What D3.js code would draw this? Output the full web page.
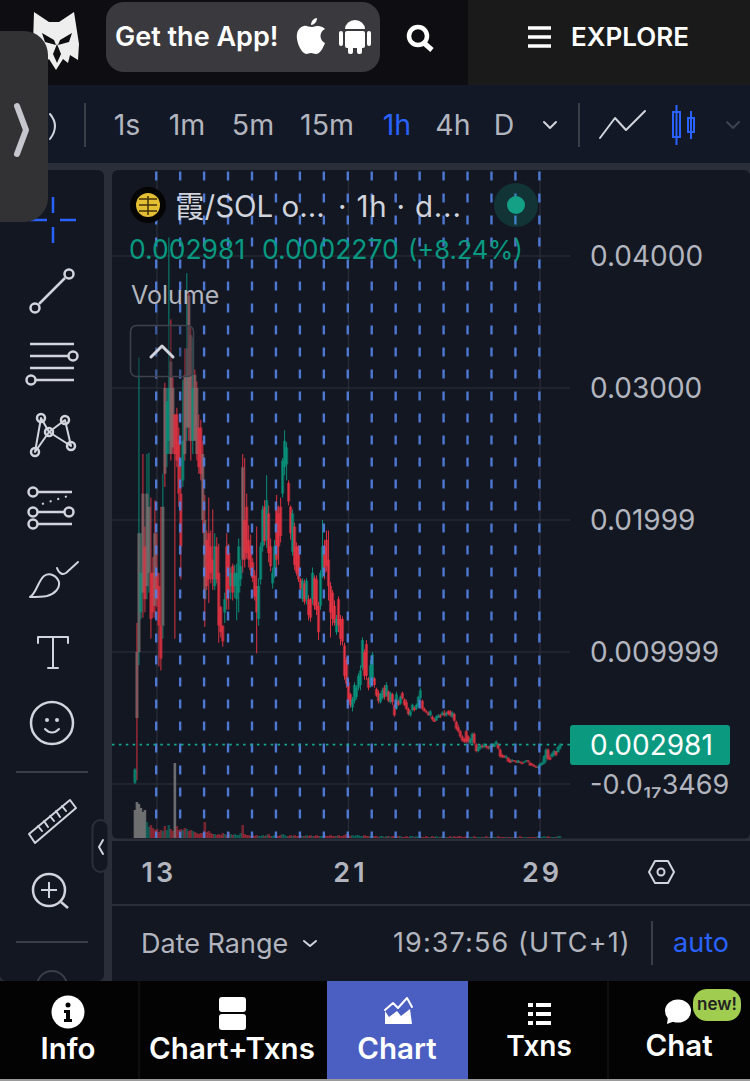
<!DOCTYPE html>
<html>
<head>
<meta charset="utf-8">
<script src="https://cdn.jsdelivr.net/npm/d3@7"></script>
<style>
  html, body { margin: 0; padding: 0; background: #131722; overflow: hidden; }
  svg { display: block; }
  text { font-family: Inter, "Noto Sans CJK SC", sans-serif; }
</style>
</head>
<body>
<div id="chart"></div>
<script>
// Prices are in units of 0.001 SOL, one candle every two hours, hour 0 = the 13th
var candleHours = d3.range(-22, 406, 2);

var highs = [
  1.2,12.2,32.3,19,25,19.5,25,25.1,21.7,17.2,
  21.5,19,16,21,23.5,30.4,30,41.4,35.2,30.8,
  28,28.5,27,24.6,30.6,33,38.7,37.2,34.6,33.8,
  31.4,30.5,28,27.6,26,21.9,19.2,21.7,19.2,20.8,
  19,18.7,18.2,13.5,12,14.5,19,18.2,16.4,16.7,
  16.6,16.7,18.6,17,25,24.7,22,19.6,18.9,17.1,
  16.2,19.5,15.6,18.3,21.1,21.5,23.4,21.1,18.6,16.4,
  18.5,21.9,21.1,21.7,24.7,26.8,25.9,23,21.1,20.8,
  19.8,18.3,18.1,15.6,15.6,15.5,15.6,14.3,14.1,16.4,
  15.8,15.8,13.8,16.2,20,18.5,19.2,19.2,15.3,14.7,
  13.9,12.8,14.2,12.8,12.7,10.7,9.6,7.9,6.9,6.6,
  7.7,7.5,8.4,9,11.1,10.2,10.9,8.1,9.4,10,
  8.1,7.3,7.1,6.9,7.3,7.5,7.7,7.1,7,6.9,
  6.1,7,6.4,6.7,7,6.5,6.4,5.8,5.6,6.1,
  5.9,6.1,6.7,7.3,6.4,5.8,5.6,5.5,5.6,5.2,
  5,5.2,5.3,5.3,5.5,5.6,5.5,5.6,5.6,5.5,
  5.4,4.8,4.5,4.1,3.7,3.5,4.1,3.7,3.5,3.9,
  3.9,3.1,2.9,3,3,3.1,3,2.9,3,3,
  3.1,3.3,3.1,2.7,2.3,2.2,2.2,2,1.9,1.9,
  1.8,1.8,1.8,1.7,1.7,1.7,1.8,1.8,1.7,1.6,
  1.5,1.4,1.4,1.6,1.7,2.2,2.7,2.7,2.2,2.4,
  2.6,2.5,2.9,3.1
];
var lows = [
  0,.3,9,12.5,12.6,13,14,14.5,11,12.6,
  12.6,13.4,8.9,8.6,11,22.5,24,25,24.5,25,
  11,24,21,15.5,22.5,24.5,26,26,24.5,25,
  26,24.5,23.5,23,19,11.9,14.7,13.7,15.2,14.7,
  14.7,15.2,10.7,11.1,10.4,12.2,13.2,13.2,14,13.9,
  14.1,12.4,13,15,16,16.4,17.1,16.4,15.8,15.3,
  13.9,9.9,12,15.1,17.6,18.1,17.9,16.8,16.1,14.8,
  15.6,15.8,16.6,18.3,21.7,23.4,23,21.1,18.5,17.3,
  16.2,15.8,15.3,14.7,13.8,13.6,13.6,12.4,12.3,13.6,
  13.2,12.8,10.9,13.2,15.6,15.5,16.1,13.9,11.1,12,
  12,11.3,11.5,10.5,10.5,7.9,7.3,5.8,5.8,5.5,
  6.1,6.4,7.1,7.1,8.6,7.9,7.9,7.1,7.3,7.5,
  7.3,6.6,6.1,6.1,6.4,6.4,6.6,6.2,6.1,6,
  5.1,5.6,5.9,6,6.4,5.9,5.6,5.2,5.1,5.5,
  5.5,5.6,5.8,6.4,5.6,5.5,5.4,5.2,5.1,4.8,
  4.7,4.8,5,5,5.2,5.1,5.1,5.2,5.1,5,
  4.7,4.1,3.9,3.5,3.2,3.1,3.1,3.1,3,3,
  3,2.4,2.4,2.6,2.7,2.7,2.7,2.6,2.6,2.7,
  2.8,2.9,2.6,2,2,2,1.9,1.7,1.6,1.7,
  1.7,1.6,1.6,1.6,1.5,1.6,1.7,1.6,1.4,1.4,
  1.3,1.2,1.2,1.35,1.4,1.5,1.65,1.8,1.8,2,
  2.1,2.1,2.4,2.6
];
var opens = [
  .1,10,10,13,22,18,15,16,16,16,
  19,16,15,12,12,30,25,26,32,30,
  28,28,26,22,23,31,27,37,34,26,
  31,30,27,27,25,20,18.5,19,18,17,
  15,18,16,13.4,12,13,18,17.5,15,16.5,
  15,14,14.5,15.5,24,20,21,18.5,18,16.8,
  15.8,15,12.5,15.5,18,21,18.5,20.5,18,15.2,
  16,21,20.5,21,22,24,24.2,22.8,21,17.6,
  19.5,18,18,15.5,14,15.2,14,14,14,14,
  15.6,15.5,13.5,13.5,16,18,18.5,17,15,14.5,
  13.5,11.5,14,12.5,12.5,10.5,9.4,7.7,6.8,5.8,
  6.3,6.6,7.3,7.5,8.8,10,10.6,8,7.5,7.8,
  8,7.2,6.9,6.2,6.5,7.3,6.7,7,6.2,6.8,
  6,5.7,6.3,6.1,6.9,6.4,6.2,5.7,5.2,5.6,
  5.8,5.7,5.9,6.5,6.3,5.7,5.5,5.4,5.2,5.1,
  4.9,4.8,5,5.2,5.2,5.4,5.2,5.5,5.5,5.1,
  5.3,4.7,4.3,4,3.6,3.4,4,3.6,3.1,3.3,
  3.8,3,2.5,2.7,2.9,2.8,2.9,2.8,2.7,2.9,
  2.8,3,3,2.6,2.2,2.1,2,2,1.8,1.7,
  1.8,1.7,1.6,1.7,1.6,1.6,1.7,1.8,1.6,1.5,
  1.4,1.3,1.25,1.35,1.45,1.55,2,2.6,2,2.05,
  2.2,2.5,2.4,2.7
];
var closes = [
  1.1,5,19,16,14.5,14,22,21,12.5,13,
  13.5,14,12,9.5,21,23.5,29,30,25,25.5,
  25,24.5,22,18,26,25,33,27,26,30,
  26,25,24,23.5,20,14,15,15.5,16,15.5,
  18,15.5,12,11.5,10.8,14,14,14.5,16,14.5,
  16,16,18,16.5,17,17,17.5,17,16.2,15.6,
  14.2,13,15,18,20.8,18.4,21.5,17.5,16.5,16,
  18,17,18,18.8,24.5,26,25.5,21.4,19,20.5,
  16.6,16,15.5,14.8,15.4,13.8,15.4,12.8,12.6,16,
  13.5,13.2,11.5,16,18,16,16.5,15,13,12.5,
  12.2,12.5,12,11,10.8,8.2,7.6,6.2,6,6.4,
  7.5,7.3,8.2,8.6,10.9,8.2,8.2,7.3,9,9.8,
  7.5,6.7,6.3,6.8,7.1,6.6,7.5,6.3,6.9,6.2,
  5.2,6.8,6,6.6,6.5,6,5.7,5.3,5.5,6,
  5.6,6,6.6,7.1,5.7,5.5,5.4,5.2,5.5,4.9,
  4.7,5.1,5.2,5.1,5.4,5.2,5.4,5.3,5.2,5.4,
  4.8,4.2,4,3.6,3.3,3.2,3.2,3.2,3.4,3.8,
  3.1,2.5,2.8,2.9,2.8,3,2.8,2.7,2.9,2.8,
  3,3.2,2.7,2.1,2,2,2.1,1.7,1.6,1.8,
  1.7,1.65,1.8,1.6,1.5,1.7,1.8,1.7,1.4,1.4,
  1.3,1.25,1.3,1.55,1.6,2.1,2.6,1.9,1.85,2.3,
  2.5,2.2,2.8,2.981
];
var volumes = [
  28,36,34,30,26,28,16,11,13,10,
  8,9,6,8,7,12,8,13,9,7,
  75,12,8,9,8,10,9,7,8,7,
  6,5,4,5,5,16,6,7,5,4,
  4,3,4,3,5,4,3,6,4,3,
  4,3,3,5,13,4,3,3,2,3,
  2,3,2,2,3,2,3,4,2,2,
  3,2,2,3,4,3,2,2,3,2,
  3,2,2,3,2,2,3,2,3,2,
  2,3,2,2,2,3,2,2,3,2,
  2,2,3,2,2,3,4,3,2,3,
  2,3,3,2,2,3,2,2,2,2,
  2,2,1,2,2,1,2,2,1,2,
  2,1,2,2,1,1,2,1,2,2,
  1,2,1,2,1,1,2,1,1,2,
  1,2,1,1,2,1,1,1,2,1,
  2,1,2,2,1,1,2,1,1,1,
  2,1,1,1,1,1,2,1,1,1,
  1,1,2,1,1,1,1,1,1,1,
  1,1,1,2,1,1,1,1,1,1,
  1,1,2,1,1,2,1,2,1,1,
  1,1,2,2
];

var priceTicks = [40, 30, 20, 10, 0];
var priceLabels = ["0.04000", "0.03000", "0.01999", "0.009999", "-0.0₁₇3469"];
var lastPrice = 2.981;
var lastPriceLabel = "0.002981";
var dayTicks = [0, 192, 384];
var dayLabels = ["13", "21", "29"];
var sessionMarks = d3.range(0, 385, 24);
var intervals = ["1s", "1m", "5m", "15m", "1h", "4h", "D"];
var intervalX = [127, 187, 253, 327, 397, 453, 504];
var navLabels = ["Info", "Chart+Txns", "Chart", "Txns", "Chat"];
var navX = [68, 232, 397, 539, 679];

var svgWidth = 750;
var svgHeight = 1081;
var up = "#089981";
var down = "#f23645";
var txt = "#b2b5be";
var icon = "#d1d4dc";
var blue = "#2962ff";

var svg = d3.select("#chart").append("svg")
    .attr("width", svgWidth)
    .attr("height", svgHeight);

function box(x, y, w, h, fill, r) {
    return svg.append("rect").attr("x", x).attr("y", y).attr("width", w).attr("height", h)
        .attr("rx", r || 0).attr("fill", fill);
}
function label(s, x, y, size, fill, weight, anchor) {
    return svg.append("text").attr("x", x).attr("y", y)
        .attr("font-size", size).attr("fill", fill)
        .attr("font-weight", weight || 400)
        .attr("text-anchor", anchor || "start").text(s);
}
function line(x1, y1, x2, y2, col, w) {
    return svg.append("line").attr("x1", x1).attr("y1", y1).attr("x2", x2).attr("y2", y2)
        .attr("stroke", col || icon).attr("stroke-width", w || 2.5);
}
function ring(x, y, r, col, w) {
    return svg.append("circle").attr("cx", x).attr("cy", y).attr("r", r)
        .attr("fill", "none").attr("stroke", col || icon).attr("stroke-width", w || 2.5);
}
function path(d, fill, col, w) {
    return svg.append("path").attr("d", d).attr("fill", fill || "none")
        .attr("stroke", col || "none").attr("stroke-width", w || 2.5)
        .attr("stroke-linecap", "round").attr("stroke-linejoin", "round");
}

// panels
box(0, 0, 750, 1081, "#2a2e39");
box(0, 0, 468, 85, "#0e0e12");
box(468, 0, 282, 85, "#1a1a1a");
box(0, 85, 750, 78, "#131827");
box(0, 170, 104, 811, "#131722", 6);
box(112, 170, 638, 669, "#131722", 6);
box(112, 841, 638, 63, "#131722");
box(112, 906, 638, 75, "#131722");

// scales and axes
var xScale = d3.scaleLinear().domain([-45, 414]).range([112, 570]);
var yScale = d3.scaleLinear().domain([0, 40]).range([784, 256]);
var volScale = d3.scaleLinear().domain([0, 100]).range([838, 738]);

var grid = svg.append("g").attr("stroke", "#262a35").attr("stroke-width", 1.5);
grid.selectAll(".h").data(priceTicks).enter().append("line")
    .attr("x1", 112).attr("x2", 570)
    .attr("y1", d => yScale(d)).attr("y2", d => yScale(d));
grid.selectAll(".v").data(dayTicks).enter().append("line")
    .attr("y1", 171).attr("y2", 838)
    .attr("x1", d => xScale(d)).attr("x2", d => xScale(d));

var candles = candleHours.map(function (h, i) {
    return { hour: h, high: highs[i], low: lows[i], open: opens[i], close: closes[i], volume: volumes[i] };
});
function candleColor(d) { return d.close >= d.open ? up : down; }

svg.append("g").selectAll("rect").data(candles).enter().append("rect")
    .attr("x", d => xScale(d.hour) - 1.3)
    .attr("width", 2.6)
    .attr("y", d => volScale(d.volume))
    .attr("height", d => volScale(0) - volScale(d.volume))
    .attr("fill", d => d.volume > 20 ? "#7a7a7a" : candleColor(d))
    .attr("opacity", d => d.volume > 20 ? 0.85 : 0.45);

svg.append("g").selectAll("line").data(candles).enter().append("line")
    .attr("x1", d => xScale(d.hour)).attr("x2", d => xScale(d.hour))
    .attr("y1", d => yScale(d.high)).attr("y2", d => yScale(d.low))
    .attr("stroke", candleColor).attr("stroke-width", 1).attr("opacity", 0.9);

// bodies overlap their neighbours so red and green mix to the grey seen in the busy part
svg.append("g").selectAll("rect").data(candles).enter().append("rect")
    .attr("x", d => xScale(d.hour) - 1.6)
    .attr("width", 3.2)
    .attr("y", d => yScale(Math.max(d.open, d.close)))
    .attr("height", d => Math.max(0.8, Math.abs(yScale(d.open) - yScale(d.close))))
    .attr("fill", d => d.high > 12 && Math.abs(d.open - d.close) > 4 ? "#8e7474" : candleColor(d))
    .attr("opacity", 0.62);

// dashed session lines sit over the candles
svg.append("g").selectAll("line").data(sessionMarks).enter().append("line")
    .attr("x1", d => xScale(d) - 0.7).attr("x2", d => xScale(d) - 0.7)
    .attr("y1", 171.5).attr("y2", 838)
    .attr("stroke", "#5480e0").attr("stroke-width", 2.4)
    .attr("stroke-dasharray", "9 13")
    .attr("opacity", 0.92);

// last price line
svg.append("line")
    .attr("x1", 112).attr("x2", 570)
    .attr("y1", yScale(lastPrice)).attr("y2", yScale(lastPrice))
    .attr("stroke", "#14a68c").attr("stroke-width", 1.8)
    .attr("stroke-dasharray", "2.5 4.4");

// price axis
box(570, 725, 160, 40, "#0b9a80", 3);
svg.append("g")
    .attr("transform", "translate(570,1)")
    .call(d3.axisRight(yScale).tickValues(priceTicks).tickSize(0).tickPadding(20)
        .tickFormat((d, i) => priceLabels[i]))
    .call(g => g.select(".domain").remove())
    .call(g => g.selectAll("text").attr("font-size", (d, i) => i == 4 ? 27 : 28).attr("fill", txt)
        .attr("font-family", "Inter, sans-serif"));
label(lastPriceLabel, 590, 755, 28, "#ffffff");

// time axis
line(112, 839.5, 750, 839.5, "#2a2e39", 2);
svg.append("g")
    .attr("transform", "translate(1.5,839)")
    .call(d3.axisBottom(xScale).tickValues(dayTicks).tickSize(0).tickPadding(24)
        .tickFormat((d, i) => dayLabels[i]))
    .call(g => g.select(".domain").remove())
    .call(g => g.selectAll("text").attr("font-size", 27).attr("font-weight", 600).attr("fill", txt)
        .attr("letter-spacing", 3).attr("font-family", "Inter, sans-serif"));
path("M649 872l6-11h13l6 11-6 11h-13z", "none", icon, 2);
ring(661, 872, 3.5, icon, 2);

// chart title and legend
svg.append("circle").attr("cx", 148).attr("cy", 205).attr("r", 18).attr("fill", "#050505");
svg.append("circle").attr("cx", 148).attr("cy", 205).attr("r", 12).attr("fill", "#e4bf34");
line(139, 199, 157, 199, "#40300a", 1.5);
line(139, 205, 157, 205, "#40300a", 1.5);
line(139, 211, 157, 211, "#40300a", 1.5);
line(148, 196, 148, 215, "#40300a", 1.5);
label("霞/SOL o...", 175, 217, 29.5, icon).attr("font-family", "Inter, 'Noto Sans CJK SC', sans-serif");
label("· 1h · d...", 338, 217, 29.5, icon).attr("letter-spacing", 0.8);
svg.append("circle").attr("cx", 516).attr("cy", 205).attr("r", 22).attr("fill", "#14a085").attr("opacity", 0.22);
svg.append("circle").attr("cx", 516).attr("cy", 205).attr("r", 9).attr("fill", "#14a085");
label("0.002981", 129, 259, 26.5, up);
label("0.0002270", 262, 259, 26.5, up);
label("(+8.24%)", 408, 259, 25.5, up);
label("Volume", 131, 304, 25, txt);
svg.append("rect").attr("x", 130.5).attr("y", 325.5).attr("width", 63).attr("height", 51).attr("rx", 6)
    .attr("fill", "#131722").attr("fill-opacity", 0.35).attr("stroke", "#3f424c").attr("stroke-width", 1.5);
path("M151 357l11-11 11 11", "none", icon, 3);

// top bar
path("M34 12l15 10h10l15-10 5 32-1 16-8-5-2 8-5-4-7 11-7-11-5 4-2-8-8 5-1-16z", "#eeeeee");
path("M42 33l12 7 2 5-11-3zM72 33l-12 7-2 5 11-3z", "#0e0e12");
path("M57 44l-4 10 4 9 4-9z", "#0e0e12");
box(106, 2, 274, 70, "#39393e", 18);
label("Get the App!", 115, 46, 27, "#ffffff", 600);
path("M312 27c-3 0-6-2-8-1-5 1-8 6-7 13 1 7 5 14 9 15 2 0 3-1 5-1s3 1 5 1c4 0 7-6 9-11-6-3-6-11 0-14-3-3-6-3-8-3-2 0-3 1-5 1z", "#ffffff");
path("M311 25c0-4 3-7 6-7 0 4-3 7-6 7z", "#ffffff");
path("M345 29a10 9 0 0 1 20 0z", "#ffffff");
box(345, 31, 20, 17, "#ffffff", 2);
box(339, 31, 4, 15, "#ffffff", 2);
box(367, 31, 4, 15, "#ffffff", 2);
box(348, 45, 5, 9, "#ffffff", 2);
box(357, 45, 5, 9, "#ffffff", 2);
ring(418, 36, 9, "#ffffff", 4.5);
line(424, 43, 432, 50, "#ffffff", 5);
line(528, 28, 551, 28, "#ffffff", 3.5);
line(528, 37, 551, 37, "#ffffff", 3.5);
line(528, 46, 551, 46, "#ffffff", 3.5);
label("EXPLORE", 571, 46, 26, "#ffffff", 600);

// interval toolbar
line(85, 103, 85, 147, "#3a3e49", 2);
svg.selectAll(".interval").data(intervals).enter().append("text")
    .attr("x", (d, i) => intervalX[i]).attr("y", 135)
    .attr("text-anchor", "middle")
    .attr("font-size", 28.5)
    .attr("fill", d => d == "1h" ? blue : txt)
    .text(d => d);
path("M544 122l6 6 6-6", "none", icon, 2);
line(579, 103, 579, 147, "#3a3e49", 2);
path("M600 138l15-20 11 12 19-19", "none", icon, 2);
svg.append("rect").attr("x", 673).attr("y", 112).attr("width", 7).attr("height", 25).attr("fill", "none").attr("stroke", blue).attr("stroke-width", 2);
line(676.5, 105, 676.5, 145, blue, 2);
svg.append("rect").attr("x", 688).attr("y", 118).attr("width", 6).attr("height", 14).attr("fill", "none").attr("stroke", blue).attr("stroke-width", 2);
line(691, 111, 691, 139, blue, 2);
path("M727 122l6 6 6-6", "none", "#3e4350", 2);
path("M50 114q10 12 0 25", "none", icon, 2);

// drawing tools
line(30, 220, 47, 220, blue);
line(60, 220, 76, 220, blue);
line(53, 197, 53, 213, blue);
line(53, 227, 53, 243, blue);
line(39, 304, 65, 278);
ring(35, 308, 4.5);
ring(69, 274, 4.5);
line(30, 344, 74, 344);
line(30, 356, 68, 356);
line(30, 368, 74, 368);
line(36, 380, 74, 380);
ring(73, 356, 4.5);
ring(31, 380, 4.5);
path("M41 418L35 452L49 432L41 418M49 432L65 420L71 446M49 432L71 446M35 452L49 432", "none", icon, 2);
ring(41, 418, 4);
ring(65, 420, 4);
ring(49, 432, 4);
ring(35, 452, 4);
ring(71, 446, 4);
line(38, 492, 72, 492);
line(38, 512, 64, 512);
line(38, 524, 72, 524);
ring(33, 492, 4.5);
ring(33, 512, 4.5);
ring(69, 512, 4.5);
ring(33, 524, 4.5);
line(42, 504, 68, 496, icon, 2).attr("stroke-dasharray", "2 6");
path("M30 597c6-3 8-16 14-21 6-4 13 0 15 6 1 6-4 12-12 14-6 1-11 1-17 1z", "none", icon, 2);
path("M57 568c2 6 6 7 9 5l12-11", "none", icon, 2);
path("M38 643v-6h30v6M53 637v31M48 668h10", "none", icon, 2);
ring(52, 723, 21);
svg.append("circle").attr("cx", 47).attr("cy", 720).attr("r", 2).attr("fill", icon);
svg.append("circle").attr("cx", 57).attr("cy", 720).attr("r", 2).attr("fill", icon);
path("M45 729q7 7 14 0", "none", icon, 2);
line(16, 772, 88, 772, "#3a3e49", 2);
path("M29 834l41-34 6 8-41 35z M38 826l4 5M44 821l4 6M50 816l4 5M56 811l4 6M62 806l4 5", "none", icon, 2);
ring(49, 890, 16);
line(49, 882, 49, 898, icon, 2);
line(41, 890, 57, 890, icon, 2);
line(61, 902, 68, 908);
line(16, 942, 88, 942, "#3a3e49", 2);
ring(52, 986, 15, "#3a3e49", 2);
svg.append("rect").attr("x", 92.5).attr("y", 820).attr("width", 16).attr("height", 52).attr("rx", 8)
    .attr("fill", "#131722").attr("stroke", "#2a2e39").attr("stroke-width", 2);
path("M103 840l-4 7 4 7", "none", icon, 2);

// footer row
label("Date Range", 141, 953, 27, txt);
path("M304 941l6 5 6-5", "none", icon, 2);
label("19:37:56 (UTC+1)", 393, 952, 27, txt).attr("letter-spacing", 1.1);
line(652, 921, 652, 965, "#3a3e49", 2);
label("auto", 673, 952, 27, blue);

// bottom nav
box(0, 981, 750, 100, "#030303");
box(327, 981, 141, 100, "#4a5fc1");
line(139, 981, 139, 1079, "#1c1c1c", 1);
line(608, 981, 608, 1079, "#1c1c1c", 1);
line(0, 1080, 750, 1080, "#9a9a9a", 2);
svg.selectAll(".nav").data(navLabels).enter().append("text")
    .attr("x", (d, i) => navX[i])
    .attr("y", (d, i) => i > 2 ? 1056 : 1059)
    .attr("text-anchor", "middle")
    .attr("font-size", (d, i) => i == 3 ? 28 : 29.5)
    .attr("font-weight", 600)
    .attr("fill", "#ffffff")
    .text(d => d);
svg.append("circle").attr("cx", 68).attr("cy", 1012).attr("r", 16.5).attr("fill", "#ffffff");
svg.append("circle").attr("cx", 68).attr("cy", 1005).attr("r", 2.5).attr("fill", "#030303");
path("M64 1010h6v9h2v3h-8v-3h2v-6h-2z", "#030303");
box(219, 997, 27, 15, "#ffffff", 3);
box(219, 1014, 27, 16, "#ffffff", 3);
path("M385 1024v-13l4 6 8-6 4 5 9-7 2 15z", "#ffffff");
path("M385 1010l8-7 5 5 9-10 5 9", "none", "#ffffff", 2);
box(528, 1003, 5, 4, "#ffffff");
box(528, 1012, 5, 4, "#ffffff");
box(528, 1021, 5, 4, "#ffffff");
box(536, 1003, 15, 4, "#ffffff");
box(536, 1012, 15, 4, "#ffffff");
box(536, 1021, 15, 4, "#ffffff");
svg.append("ellipse").attr("cx", 678).attr("cy", 1011).attr("rx", 13).attr("ry", 11.5).attr("fill", "#ffffff");
path("M668 1017l-1 7 8-3z", "#ffffff");
box(693, 989, 48, 32, "#a0cc50", 14);
label("new!", 717, 1010, 17, "#222222", 600, "middle");

// collapsible side tab, on top of everything
svg.append("path")
    .attr("d", "M0 31h24a24 24 0 0 1 24 24v143a24 24 0 0 1-24 24H0z")
    .attr("fill", "#323234");
path("M17 106l9 24-9 24", "none", "#c6c6ce", 6);
</script>
</body>
</html>
